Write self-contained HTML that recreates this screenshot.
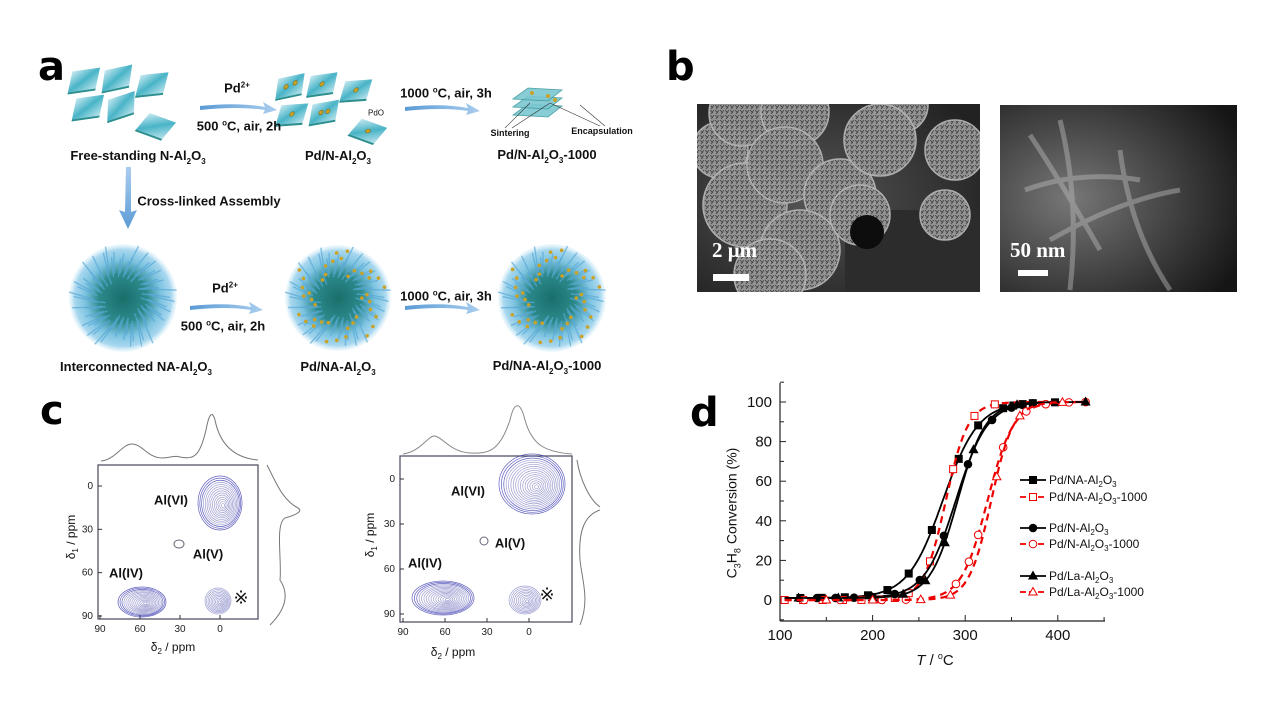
<!DOCTYPE html>
<html><head><meta charset="utf-8">
<style>
html,body{margin:0;padding:0;background:#fff;}
body{width:1280px;height:720px;position:relative;overflow:hidden;font-family:"Liberation Sans",Arial,sans-serif;}
.t{position:absolute;font-weight:bold;font-size:13px;color:#111;white-space:nowrap;transform:translate(-50%,-50%);}
.L{position:absolute;font-weight:bold;color:#000;font-family:"DejaVu Sans","Liberation Sans",sans-serif;}
svg{position:absolute;left:0;top:0;}
</style></head><body>
<svg id="s" width="1280" height="720" viewBox="0 0 1280 720" xmlns="http://www.w3.org/2000/svg">
<defs>
<linearGradient id="tile" x1="0" y1="0" x2="1" y2="1"><stop offset="0" stop-color="#c5e8f0"/><stop offset="0.5" stop-color="#3fb0c4"/><stop offset="1" stop-color="#b9e2ec"/></linearGradient>
<radialGradient id="sph" cx="0.5" cy="0.5" r="0.5"><stop offset="0" stop-color="#1a6e6a"/><stop offset="0.45" stop-color="#2c8a8c"/><stop offset="0.7" stop-color="#7cc3e0"/><stop offset="0.9" stop-color="#a9d8ef"/><stop offset="1" stop-color="#d6eef8" stop-opacity="0.3"/></radialGradient>
<linearGradient id="arr" x1="0" y1="0" x2="1" y2="0"><stop offset="0" stop-color="#5b9bd5"/><stop offset="1" stop-color="#a9cdee"/></linearGradient>
<linearGradient id="arrv" x1="0" y1="0" x2="0" y2="1"><stop offset="0" stop-color="#a9cdee"/><stop offset="1" stop-color="#5b9bd5"/></linearGradient>
<radialGradient id="sem1" cx="0.4" cy="0.5" r="0.7"><stop offset="0" stop-color="#555"/><stop offset="1" stop-color="#222"/></radialGradient>
<pattern id="fl" width="5" height="5" patternUnits="userSpaceOnUse"><rect width="5" height="5" fill="#999"/><path d="M0 0L3 3M4 0L1 4" stroke="#444" stroke-width="0.8"/></pattern>
<radialGradient id="tem" cx="0.3" cy="0.5" r="0.8"><stop offset="0" stop-color="#777"/><stop offset="0.6" stop-color="#3c3c3c"/><stop offset="1" stop-color="#151515"/></radialGradient>
<clipPath id="cb1"><rect x="697" y="104" width="283" height="188"/></clipPath>
<clipPath id="cb2"><rect x="1000" y="105" width="237" height="187"/></clipPath>
</defs>
<g id="A"></g>
<g id="B"></g>
<g id="C"></g>
<g id="D"></g>
</svg>

<div class="L" style="left:38px;top:44px;font-size:40px;">a</div>
<div class="L" style="left:666px;top:44px;font-size:40px;">b</div>
<div class="L" style="left:40px;top:388px;font-size:40px;">c</div>
<div class="L" style="left:690px;top:390px;font-size:40px;">d</div>

<div class="t" style="left:237px;top:88px;">Pd<sup style="font-size:8px">2+</sup></div>
<div class="t" style="left:239px;top:126px;">500 <sup style="font-size:8px">o</sup>C, air, 2h</div>
<div class="t" style="left:138px;top:157px;">Free-standing N-Al<sub style="font-size:8px">2</sub>O<sub style="font-size:8px">3</sub></div>
<div class="t" style="left:338px;top:157px;">Pd/N-Al<sub style="font-size:8px">2</sub>O<sub style="font-size:8px">3</sub></div>
<div class="t" style="left:446px;top:93px;">1000 <sup style="font-size:8px">o</sup>C, air, 3h</div>
<div class="t" style="left:376px;top:113px;font-size:8px;font-weight:normal;">PdO</div>
<div class="t" style="left:510px;top:133px;font-size:9px;">Sintering</div>
<div class="t" style="left:602px;top:131px;font-size:9px;">Encapsulation</div>
<div class="t" style="left:547px;top:156px;">Pd/N-Al<sub style="font-size:8px">2</sub>O<sub style="font-size:8px">3</sub>-1000</div>
<div class="t" style="left:209px;top:201px;">Cross-linked Assembly</div>
<div class="t" style="left:225px;top:288px;">Pd<sup style="font-size:8px">2+</sup></div>
<div class="t" style="left:223px;top:326px;">500 <sup style="font-size:8px">o</sup>C, air, 2h</div>
<div class="t" style="left:446px;top:296px;">1000 <sup style="font-size:8px">o</sup>C, air, 3h</div>
<div class="t" style="left:136px;top:368px;">Interconnected NA-Al<sub style="font-size:8px">2</sub>O<sub style="font-size:8px">3</sub></div>
<div class="t" style="left:338px;top:368px;">Pd/NA-Al<sub style="font-size:8px">2</sub>O<sub style="font-size:8px">3</sub></div>
<div class="t" style="left:547px;top:367px;">Pd/NA-Al<sub style="font-size:8px">2</sub>O<sub style="font-size:8px">3</sub>-1000</div>

<div class="L" style="left:712px;top:238px;font-size:21px;color:#fff;font-family:'Liberation Serif',serif;">2 μm</div>
<div class="L" style="left:1010px;top:238px;font-size:21px;color:#fff;font-family:'Liberation Serif',serif;">50 nm</div>

<div class="t" style="left:171px;top:500px;">Al(VI)</div>
<div class="t" style="left:208px;top:554px;">Al(V)</div>
<div class="t" style="left:126px;top:573px;">Al(IV)</div>
<div class="t" style="left:241px;top:598px;font-size:18px;font-weight:normal;">※</div>
<div class="t" style="left:468px;top:491px;">Al(VI)</div>
<div class="t" style="left:510px;top:543px;">Al(V)</div>
<div class="t" style="left:425px;top:563px;">Al(IV)</div>
<div class="t" style="left:547px;top:595px;font-size:18px;font-weight:normal;">※</div>
<div class="t" style="left:173px;top:648px;font-weight:normal;font-size:12px;">δ<sub style="font-size:8px">2</sub> / ppm</div>
<div class="t" style="left:453px;top:653px;font-weight:normal;font-size:12px;">δ<sub style="font-size:8px">2</sub> / ppm</div>
<div class="t" style="left:72px;top:537px;font-weight:normal;font-size:12px;transform:translate(-50%,-50%) rotate(-90deg);">δ<sub style="font-size:8px">1</sub> / ppm</div>
<div class="t" style="left:371px;top:535px;font-weight:normal;font-size:12px;transform:translate(-50%,-50%) rotate(-90deg);">δ<sub style="font-size:8px">1</sub> / ppm</div>

<div class="t" style="left:733px;top:513px;font-weight:normal;font-size:14px;transform:translate(-50%,-50%) rotate(-90deg);">C<sub style="font-size:9px">3</sub>H<sub style="font-size:9px">8</sub> Conversion (%)</div>
<div class="t" style="left:935px;top:660px;font-weight:normal;font-size:15px;"><i>T</i> / <sup style="font-size:9px">o</sup>C</div>

<script>
var NS="http://www.w3.org/2000/svg";
function el(p,t,a,txt){var e=document.createElementNS(NS,t);for(var k in a)e.setAttribute(k,a[k]);if(txt!==undefined)e.textContent=txt;p.appendChild(e);return e;}
var A=document.getElementById('A'),B=document.getElementById('B'),C=document.getElementById('C'),D=document.getElementById('D');
// ---- panel a
function tile(g,cx,cy,w,h,rot,dots){var gg=el(g,'g',{transform:'translate('+cx+','+cy+') rotate('+rot+') skewX(-20)'});
el(gg,'rect',{x:-w/2,y:-h/2,width:w,height:h,fill:'url(#tile)',opacity:0.95});
el(gg,'rect',{x:-w/2,y:h/2,width:w,height:2,fill:'#2c8f8f'});
if(dots)dots.forEach(function(d){el(gg,'circle',{cx:d[0],cy:d[1],r:2.2,fill:'#c9a227',stroke:'#7a6010','stroke-width':0.5});});}
[[84,80,-8],[117,78,-12],[152,84,-6],[88,107,-8],[121,106,-18],[156,126,20]].forEach(function(p){tile(A,p[0],p[1],28,20,p[2]);});
[[290,86,-12,[[-4,0],[5,-2]]],[322,84,-8,[[0,0]]],[356,90,-4,[[0,0]]],[292,114,-4,[[0,0]]],[324,112,-10,[[-3,0],[4,0]]],[368,131,20,[[0,0]]]].forEach(function(p){tile(A,p[0],p[1],27,19,p[2],p[3]);});
for(var i=0;i<3;i++){el(A,'polygon',{points:'513,'+(115-i*8)+' 528,'+(104-i*8)+' 562,'+(106-i*8)+' 548,'+(117-i*8),fill:'#7cc7d2',stroke:'#3a9a9c','stroke-width':0.8,opacity:0.9});}
[[532,93],[548,96],[555,100]].forEach(function(d){el(A,'circle',{cx:d[0],cy:d[1],r:2,fill:'#c9a227'});});
el(A,'path',{d:'M505 128 L530 103 M512 128 L550 103 M600 126 L550 103 M605 126 L580 105',stroke:'#333','stroke-width':0.6,fill:'none'});
function harrow(x1,x2,y){el(A,'path',{d:'M'+x1+' '+(y-2)+' Q'+((x1+x2)/2)+' '+(y-6)+' '+(x2-12)+' '+(y-1)+' L'+(x2-14)+' '+(y-6)+' L'+x2+' '+(y+2)+' L'+(x2-14)+' '+(y+6)+' L'+(x2-12)+' '+(y+2)+' Q'+((x1+x2)/2)+' '+(y-2)+' '+x1+' '+(y+2)+'Z',fill:'url(#arr)'});}
harrow(200,277,108);harrow(405,480,109);harrow(190,263,308);harrow(405,480,308);
el(A,'path',{d:'M126 167 L131 167 L131 212 L137 210 L128 229 L119 210 L125 212Z',fill:'url(#arrv)'});
function sphere(cx,cy,r,dots){el(A,'circle',{cx:cx,cy:cy,r:r,fill:'url(#sph)'});
for(var k=0;k<70;k++){var a=k*2.4,rr=r*(0.6+0.45*((k*37)%10)/10);el(A,'path',{d:'M'+(cx+Math.cos(a)*rr*0.55)+' '+(cy+Math.sin(a)*rr*0.55)+' L'+(cx+Math.cos(a+0.15)*rr)+' '+(cy+Math.sin(a+0.15)*rr),stroke:'#5aa9d6','stroke-width':1.4,opacity:0.7});}
if(dots)for(var k=0;k<40;k++){var a=k*2.399,rr=r*(0.45+0.5*((k*53)%10)/10);el(A,'circle',{cx:cx+Math.cos(a)*rr,cy:cy+Math.sin(a)*rr,r:1.8,fill:'#c9a227'});}}
sphere(123,298,54,false);sphere(338,298,53,true);sphere(552,298,54,true);
// ---- panel b
var g1=el(B,'g',{'clip-path':'url(#cb1)'});
el(g1,'rect',{x:697,y:104,width:283,height:188,fill:'url(#sem1)'});
el(g1,'rect',{x:845,y:210,width:135,height:82,fill:'#2c2c2c'});
[[720,150,28],[742,113,33],[795,112,34],[955,150,30],[900,105,28],[945,215,25],[745,205,42],[785,165,38],[840,195,36],[880,140,36],[800,250,40],[770,275,36],[860,215,30]].forEach(function(b){el(g1,'circle',{cx:b[0],cy:b[1],r:b[2],fill:'url(#fl)',stroke:'#b5b5b5','stroke-width':1.5,opacity:0.95});});
el(g1,'circle',{cx:867,cy:232,r:17,fill:'#0d0d0d'});
el(B,'rect',{x:713,y:274,width:36,height:7,fill:'#fff'});
var g2=el(B,'g',{'clip-path':'url(#cb2)'});
el(g2,'rect',{x:1000,y:105,width:237,height:187,fill:'url(#tem)'});
el(g2,'path',{d:'M1030 135 Q1060 180 1100 250 M1025 190 Q1080 170 1140 180 M1060 120 Q1080 200 1070 290 M1050 240 Q1120 200 1180 190 M1120 150 Q1130 230 1170 290',stroke:'#bbb','stroke-width':5,fill:'none',opacity:0.45});
el(B,'rect',{x:1018,y:270,width:30,height:6,fill:'#fff'});
// ---- panel c
function nmr(x0,x1,y0,y1,tx0,tx90,ty0,ty90,spec){
el(C,'rect',{x:x0,y:y0,width:x1-x0,height:y1-y0,fill:'none',stroke:'#556','stroke-width':1.3});
[90,60,30,0].forEach(function(v){var x=tx0+(tx90-tx0)*(90-v)/90;el(C,'line',{x1:x,x2:x,y1:y1,y2:y1-4,stroke:'#333'});el(C,'text',{x:x,y:y1+13,'font-size':10,'text-anchor':'middle',fill:'#222'},v);
var y=ty0+(ty90-ty0)*v/90;el(C,'line',{x1:x0,x2:x0+4,y1:y,y2:y,stroke:'#333'});el(C,'text',{x:x0-5,y:y+3,'font-size':10,'text-anchor':'end',fill:'#222'},v);});
spec();}
function blob(cx,cy,rx,ry,n,dark){for(var k=0;k<n;k++){var f=1-k/n;el(C,'ellipse',{cx:cx+(1-f)*rx*0.15,cy:cy+(1-f)*ry*0.1,rx:rx*f,ry:ry*f,fill:'none',stroke:k<3&&dark?'#3a3ab0':'#8a8ac8','stroke-width':0.7,opacity:0.8});}}
nmr(98,258,465,619,100,220,486,616,function(){
el(C,'path',{d:'M101 461 C115 460 122 444 132 444 C142 444 148 458 162 458 C170 458 175 455 180 457 C195 460 200 455 206 430 C209 414 212 410 215 420 C220 445 235 458 258 460',fill:'none',stroke:'#777','stroke-width':1});
el(C,'path',{d:'M267 465 C275 480 282 500 298 508 C302 510 300 514 285 518 C275 524 282 560 280 580 C290 595 285 610 270 625',fill:'none',stroke:'#777','stroke-width':1});
blob(220,503,22,27,14,true);blob(142,602,24,15,14,true);blob(218,601,13,13,10,false);
el(C,'ellipse',{cx:179,cy:544,rx:5,ry:4,fill:'none',stroke:'#667','stroke-width':1});});
nmr(400,572,456,622,403,529,479,614,function(){
el(C,'path',{d:'M403 454 C420 452 428 436 434 436 C442 436 450 452 470 453 C490 454 500 450 510 420 C514 402 520 400 525 420 C532 445 545 452 572 454',fill:'none',stroke:'#888','stroke-width':1});
el(C,'path',{d:'M577 460 C580 480 590 500 600 507 M600 510 C585 515 578 530 580 560 C582 580 590 600 580 625',fill:'none',stroke:'#777','stroke-width':1});
blob(532,484,33,30,16,true);blob(443,598,31,17,15,true);blob(525,600,16,14,10,false);
el(C,'ellipse',{cx:484,cy:541,rx:4,ry:4,fill:'none',stroke:'#667','stroke-width':1});});
// ---- panel d
function X(T){return 780+(T-100)*0.926;}function Y(c){return 600-c*1.98;}
el(D,'line',{x1:780,y1:383,x2:780,y2:621,stroke:'#222','stroke-width':1.2});
el(D,'line',{x1:780,y1:621,x2:1105,y2:621,stroke:'#222','stroke-width':1.2});
for(var T=100;T<=450;T+=50){el(D,'line',{x1:X(T),x2:X(T),y1:621,y2:T%100?617:615,stroke:'#222'});if(T%100==0&&T<450)el(D,'text',{x:X(T),y:640,'font-size':15,'text-anchor':'middle',fill:'#111'},T);}
for(var c=-10;c<=110;c+=10){el(D,'line',{x1:780,x2:c%20?784:786,y1:Y(c),y2:Y(c),stroke:'#222'});if(c>=0&&c<=100&&c%20==0)el(D,'text',{x:772,y:Y(c)+5,'font-size':15,'text-anchor':'end',fill:'#111'},c);}
var S=[{t:276,k:19,b:1,col:'#000',d:null,m:'sq',f:1,end:400,pts:[122,145,170,195,216,239,264,293,314,341,352,362,373,397]},
{t:279,k:12,b:0,col:'#e00',d:'7,5',m:'sq',f:0,end:425,pts:[105,125,146,168,188,209,224,239,262,287,310,332]},
{t:290,k:17,b:1,col:'#000',d:null,m:'ci',f:1,end:400,pts:[140,160,180,200,224,251,277,303,329,350,362,373]},
{t:324,k:14,b:0,col:'#e00',d:'7,5',m:'ci',f:0,end:430,pts:[126,165,210,236,290,304,314,341,366,387,412,430]},
{t:292,k:15,b:1,col:'#000',d:null,m:'tr',f:1,end:430,pts:[120,163,200,233,257,278,309,356,430]},
{t:328,k:12,b:0,col:'#e00',d:'7,5',m:'tr',f:0,end:420,pts:[150,200,252,284,334,359,405]}];
function fc(s,T){var q=1/(1+Math.exp(-(T-s.t)/s.k));return s.b*(1-q)+100*q;}
function mark(s,x,y){var a={fill:s.f?s.col:'#fff',stroke:s.col,'stroke-width':1};
if(s.m=='sq'){a.x=x-3.5;a.y=y-3.5;a.width=7;a.height=7;el(D,'rect',a);}else if(s.m=='ci'){a.cx=x;a.cy=y;a.r=3.8;el(D,'circle',a);}else{a.points=x+','+(y-4.5)+' '+(x-4.2)+','+(y+3)+' '+(x+4.2)+','+(y+3);el(D,'polygon',a);}}
S.forEach(function(s){var d='';for(var T=105;T<=s.end;T+=2)d+=(T==105?'M':'L')+X(T).toFixed(1)+' '+Y(fc(s,T)).toFixed(1);
var a={d:d,fill:'none',stroke:s.col,'stroke-width':s.d?2.2:1.8};if(s.d)a['stroke-dasharray']=s.d;el(D,'path',a);
s.pts.forEach(function(T){mark(s,X(T),Y(fc(s,T)));});});
var ly=[480,497,528,544,576,592],lab=[['Pd/NA-Al','2','O','3',''],['Pd/NA-Al','2','O','3','-1000'],['Pd/N-Al','2','O','3',''],['Pd/N-Al','2','O','3','-1000'],['Pd/La-Al','2','O','3',''],['Pd/La-Al','2','O','3','-1000']];
S.forEach(function(s,i){var y=ly[i];var a={x1:1020,x2:1046,y1:y,y2:y,stroke:s.col,'stroke-width':1.8};if(s.d)a['stroke-dasharray']='6,3';el(D,'line',a);mark(s,1033,y);
var t=el(D,'text',{x:1049,y:y+4,'font-size':12,fill:'#111'});var L=lab[i];
el(t,'tspan',{},L[0]);el(t,'tspan',{dy:3,'font-size':8},L[1]);el(t,'tspan',{dy:-3},L[2]);el(t,'tspan',{dy:3,'font-size':8},L[3]);el(t,'tspan',{dy:-3},L[4]);});
</script>
</body></html>
